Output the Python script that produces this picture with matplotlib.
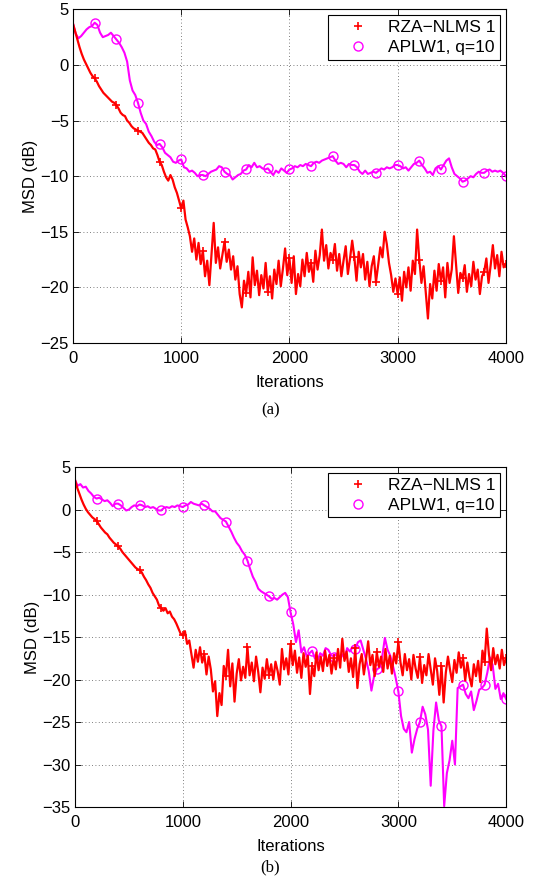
import matplotlib
matplotlib.use("Agg")
import matplotlib.pyplot as plt
from matplotlib.lines import Line2D

# red curves sampled every 20 iterations, magenta every 25
iters_red = list(range(0, 4001, 20))
iters_mag = list(range(0, 4001, 25))

# (a) MSD in dB
rza_a = [
    3.7, 3.0, 2.3, 1.6, 1.0, 0.5, 0.1, -0.3, -0.7, -1.0,
    -1.2, -1.5, -1.9, -2.2, -2.5, -2.7, -2.9, -3.1, -3.3, -3.4,
    -3.6, -3.9, -4.3, -4.5, -4.6, -5.0, -5.2, -5.5, -5.7, -5.8,
    -5.9, -6.0, -6.1, -6.4, -6.7, -7.0, -7.2, -7.5, -7.6, -8.1,
    -8.7, -9.0, -9.6, -10.1, -10.4, -9.9, -10.3, -11.0, -11.5, -12.2,
    -12.9, -12.2, -13.9, -14.6, -15.4, -16.8, -15.6, -17.5, -16.0, -17.9,
    -16.7, -19.0, -17.6, -19.8, -17.0, -14.2, -17.8, -16.4, -18.3, -17.1,
    -15.9, -17.7, -16.6, -18.4, -17.2, -19.3, -18.1, -20.6, -21.8, -19.4,
    -20.5, -18.6, -20.9, -17.3, -19.8, -18.5, -20.7, -18.9, -20.1, -17.8,
    -20.4, -19.0, -21.0, -18.4, -19.7, -17.6, -19.9, -18.3, -16.5, -18.9,
    -17.4, -19.6, -17.2, -20.6, -18.8, -19.9, -17.5, -19.0, -16.9, -18.6,
    -17.8, -19.5, -16.7, -18.4, -17.1, -14.8, -17.6, -16.2, -18.3, -16.9,
    -17.5, -16.1, -18.5, -17.0, -19.0, -17.6, -16.3, -18.8, -17.4, -15.8,
    -17.3, -19.4, -16.8, -18.2, -17.0, -19.3, -17.7, -19.9, -18.1, -17.2,
    -19.5, -18.0, -16.4, -17.3, -15.0, -16.1, -17.8, -18.9, -20.4, -19.2,
    -20.6, -19.1, -21.2, -18.6, -20.0, -18.2, -20.3, -17.6, -18.8, -14.8,
    -17.5, -19.6, -18.1, -20.4, -22.8, -19.7, -21.0, -18.5, -20.3, -17.9,
    -19.4, -18.2, -20.9, -17.8, -19.6, -18.4, -15.4, -18.0, -20.5, -18.7,
    -19.2, -18.0, -20.4, -18.8, -19.9, -17.7, -19.3, -18.4, -20.6, -19.0,
    -18.6, -17.4, -19.6, -18.0, -16.2, -18.3, -17.1, -19.0, -16.8, -18.2,
    -17.9,
]
aplw_a = [
    3.7, 2.8, 2.4, 2.6, 2.9, 3.2, 3.4, 3.5,
    3.8, 3.6, 2.9, 2.5, 2.6, 2.7, 2.9, 2.6,
    2.3, 2.0, 1.6, 1.1, 0.3, -1.4, -2.3, -2.7,
    -3.4, -4.3, -5.0, -5.3, -6.0, -6.4, -6.9, -7.2,
    -7.1, -7.4, -7.9, -8.1, -8.3, -8.7, -8.8, -8.6,
    -8.5, -9.2, -9.3, -9.6, -9.5, -9.7, -10.0, -9.9,
    -9.9, -10.0, -9.8, -9.6, -9.5, -9.4, -9.1, -9.2,
    -9.6, -9.8, -9.9, -10.3, -10.1, -9.9, -9.8, -9.5,
    -9.4, -9.0, -9.2, -8.8, -9.2, -9.1, -9.3, -9.4,
    -9.3, -9.6, -9.9, -9.5, -9.7, -9.3, -9.5, -9.7,
    -9.4, -9.3, -9.1, -9.2, -9.0, -9.1, -8.9, -9.0,
    -9.1, -8.8, -8.7, -8.8, -8.6, -8.5, -8.4, -8.3,
    -8.2, -8.6, -8.9, -8.8, -8.9, -9.2, -8.9, -9.0,
    -9.0, -9.2, -9.6, -9.8, -9.5, -9.8, -9.7, -9.6,
    -9.7, -9.5, -9.3, -9.4, -9.2, -9.3, -9.2, -9.0,
    -9.0, -9.1, -9.3, -9.2, -9.5, -9.2, -8.9, -8.8,
    -8.6, -9.0, -9.3, -9.7, -9.6, -9.9, -9.3, -9.1,
    -9.4, -9.0, -8.6, -8.4, -9.2, -9.8, -10.0, -10.2,
    -10.5, -10.4, -10.2, -10.0, -10.1, -9.8, -9.6, -9.7,
    -9.7, -9.5, -9.4, -9.6, -9.5, -9.6, -9.5, -9.7,
    -10.0,
]

# (b) MSD in dB
rza_b = [
    3.5, 2.6, 1.9, 1.2, 0.6, 0.1, -0.3, -0.6, -0.9, -1.1,
    -1.3, -1.7, -2.1, -2.4, -2.7, -2.9, -3.3, -3.6, -3.9, -4.1,
    -4.3, -4.6, -5.0, -5.3, -5.6, -5.9, -6.2, -6.5, -6.8, -7.0,
    -7.1, -7.4, -7.9, -8.3, -8.8, -9.2, -9.8, -10.2, -10.6, -11.3,
    -11.6, -11.9, -11.6, -12.2, -12.0, -12.6, -12.9, -13.4, -14.0, -14.6,
    -14.8, -14.3, -15.8, -15.4, -17.0, -18.6, -16.5, -17.9, -16.2, -18.0,
    -17.0, -19.4, -17.3, -18.8, -21.4, -20.2, -24.3, -21.6, -23.0, -18.4,
    -19.6, -16.5, -20.8, -18.1, -22.6, -19.3, -17.6, -20.1, -18.5, -19.8,
    -16.2, -19.5, -18.0, -20.2, -17.3, -19.1, -21.5, -18.6, -19.9, -17.6,
    -19.5, -18.2, -20.0, -17.9, -19.0, -20.6, -16.4, -18.8, -17.5, -19.4,
    -15.8, -18.3, -16.6, -19.2, -17.4, -19.8, -16.9, -18.5, -17.2, -21.7,
    -18.4, -19.6, -16.8, -18.9, -17.3, -19.0, -16.6, -18.4, -17.1, -19.3,
    -17.5, -18.8, -16.4, -18.6, -15.2, -17.8, -16.7, -19.1, -17.5, -19.7,
    -16.3, -21.0, -18.2, -17.0, -19.4, -17.6, -15.5, -18.3, -17.1, -19.6,
    -16.8, -18.5, -17.3, -19.1, -16.4, -18.7, -17.2, -19.3, -16.9, -18.1,
    -15.6, -18.0, -19.5, -17.0, -18.9, -17.6, -20.0, -17.1, -18.7, -19.8,
    -17.4, -20.4, -18.3, -19.5, -17.0, -18.8, -20.6, -17.5, -19.0, -21.8,
    -18.4, -22.7, -19.2, -17.3, -18.9, -20.3, -17.7, -19.2, -16.8, -18.6,
    -17.5, -20.1, -18.0, -19.7, -20.8, -18.2, -19.6, -17.8, -20.3, -16.6,
    -17.9, -14.0, -17.0, -18.9, -16.3, -18.2, -17.1, -18.7, -16.5, -18.3,
    -17.5,
]
aplw_b = [
    3.5, 2.8, 3.0, 2.6, 2.7, 2.2, 1.9, 1.5,
    1.3, 1.4, 1.2, 1.0, 1.1, 0.8, 0.4, 0.7,
    0.7, 0.5, 0.2, -0.1, 0.0, 0.3, 0.5, 0.4,
    0.6, 0.5, 0.3, 0.4, 0.2, 0.3, 0.1, -0.1,
    -0.1, 0.2, 0.3, 0.2, 0.4, 0.3, 0.5, 0.4,
    0.3, 0.5, 0.6, 0.9, 0.7, 0.6, 0.5, 0.7,
    0.5, 0.3, 0.1, -0.2, -0.2, -0.6, -1.0, -1.2,
    -1.4, -2.0, -2.6, -3.3, -3.9, -4.3, -4.9, -5.3,
    -6.0, -7.0, -7.9, -8.5, -9.3, -9.6, -9.8, -10.0,
    -10.2, -10.5, -10.4, -10.6, -10.3, -10.0, -9.8, -10.3,
    -12.1, -13.5, -15.6, -14.2, -16.8, -16.2, -17.3, -16.9,
    -16.6, -17.5, -17.8, -16.9, -17.2, -16.3, -16.5, -17.1,
    -17.3, -17.0, -17.6, -17.0, -17.5, -16.3, -16.7, -16.2,
    -16.4, -15.6, -15.4, -16.5, -17.6, -19.0, -21.3, -19.6,
    -18.8, -18.6, -17.3, -15.1, -16.5, -17.2, -18.4, -19.8,
    -21.4, -24.3, -25.8, -26.2, -25.0, -28.6, -27.0, -25.8,
    -25.0, -23.2, -24.1, -25.9, -32.5, -26.0, -22.7, -24.8,
    -25.5, -34.9, -31.0, -29.5, -27.2, -30.0, -21.0, -20.8,
    -20.6, -21.7, -22.2, -21.4, -23.6, -22.5, -21.2, -21.0,
    -20.6, -19.2, -17.4, -18.3, -21.1, -20.5, -22.3, -21.6,
    -22.3,
]

labels = ["RZA\u2212NLMS 1", "APLW1, q=10"]
captions = ["(a)", "(b)"]
ylims = [(-25, 5), (-35, 5)]

plt.rcParams["font.family"] = ["Liberation Sans", "DejaVu Sans"]

fig = plt.figure(figsize=(5.41, 8.92), dpi=100)
ax_a = fig.add_axes([0.135, 0.6155, 0.800, 0.374])
ax_b = fig.add_axes([0.1386, 0.0953, 0.797, 0.381])

RED = "#ff0000"
MAG = "#ff00ff"

for ax, red, mag, yl in [(ax_a, rza_a, aplw_a, ylims[0]),
                         (ax_b, rza_b, aplw_b, ylims[1])]:
    ax.plot(iters_mag, mag, color=MAG, lw=1.5, marker="o", ms=6.5,
            mfc="none", mew=1.0, markevery=slice(8, None, 8))
    ax.plot(iters_red, red, color=RED, lw=1.6, marker="+", ms=5.5,
            mew=1.2, markevery=slice(10, None, 10))
    ax.set_xlim(0, 4000)
    ax.set_ylim(*yl)
    ax.set_xticks(range(0, 4001, 1000))
    ax.set_yticks(range(yl[0], yl[1] + 1, 5))
    ax.tick_params(direction="in", top=True, right=True, length=4, width=0.6,
                   labelsize=12)
    ax.tick_params(axis="x", pad=6)
    ax.tick_params(axis="y", pad=3)
    ax.grid(True, linestyle=(0, (1, 3)), color="#555555", lw=0.6)
    for s in ax.spines.values():
        s.set_linewidth(0.8)
    ax.set_xlabel("Iterations", fontsize=12, labelpad=6)
    ax.set_ylabel("MSD (dB)", fontsize=12, labelpad=2)
    handles = [Line2D([], [], color=RED, marker="+", ls="none", ms=5.5, mew=1.2),
               Line2D([], [], color=MAG, marker="o", ls="none", ms=6.5,
                      mfc="none", mew=1.0)]
    leg = ax.legend(handles, labels, loc="upper right", fancybox=False,
                    edgecolor="black", framealpha=1, fontsize=12.5,
                    borderaxespad=0.35, handletextpad=0.3, borderpad=0.25,
                    labelspacing=0.3, handlelength=2.9)
    leg.get_frame().set_linewidth(0.8)

fig.text(0.5, 1 - 410 / 892, captions[0], ha="center", va="center",
         family="Liberation Serif", fontsize=12)
fig.text(0.5, 1 - 867 / 892, captions[1], ha="center", va="center",
         family="Liberation Serif", fontsize=12)

fig.savefig("out.png", dpi=100)
